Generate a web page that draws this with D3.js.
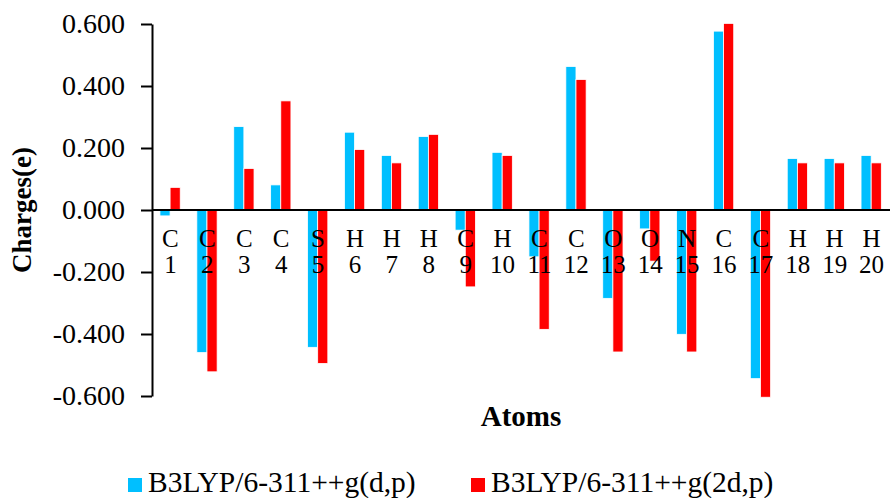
<!DOCTYPE html>
<html><head><meta charset="utf-8">
<script src="https://cdn.jsdelivr.net/npm/d3@7"></script>
<style>body{margin:0;background:#fff}svg{display:block}</style>
</head><body><svg id="c" width="891" height="498"></svg>
<script>
const atoms = ["C","C","C","C","S","H","H","H","C","H","C","C","O","O","N","C","C","H","H","H"];
const indices = ["1","2","3","4","5","6","7","8","9","10","11","12","13","14","15","16","17","18","19","20"];
const seriesNames = ["B3LYP/6-311++g(d,p)","B3LYP/6-311++g(2d,p)"];
const dp  = [-0.019,-0.460,0.269,0.081,-0.443,0.251,0.176,0.237,-0.065,0.186,-0.151,0.463,-0.285,-0.061,-0.401,0.577,-0.544,0.166,0.166,0.176];
const d2p = [0.073,-0.522,0.134,0.352,-0.495,0.195,0.152,0.244,-0.248,0.176,-0.385,0.421,-0.458,-0.165,-0.458,0.602,-0.604,0.152,0.152,0.152];
const yTicks = [-0.6,-0.4,-0.2,0,0.2,0.4,0.6];
const colors = ["#00BFFF","#FF0000"];
const FONT = "Liberation Serif";

const svg = d3.select("#c");
const mLeft = 152, mRight = 890, mTop = 24, mBottom = 396;
const y = d3.scaleLinear().domain([-0.6,0.6]).range([mBottom, mTop]);
const x = d3.scaleBand().domain(indices).range([mLeft, mRight]).padding(0);
const bw = x.bandwidth();
const x1 = d3.scaleBand().domain([0,1]).range([bw*0.215, bw*0.765]).padding(0);
const vals = [dp, d2p];

// bars
const g = svg.append("g");
vals.forEach((arr, s) => {
  g.selectAll(".b"+s).data(arr).enter().append("rect")
    .attr("x", (d,i) => x(indices[i]) + x1(s))
    .attr("width", x1.bandwidth())
    .attr("y", d => y(Math.max(0,d)))
    .attr("height", d => Math.abs(y(d) - y(0)))
    .attr("fill", colors[s])
    .attr("stroke", "#fff").attr("stroke-width", 0.8);
});

// y axis
const ya = svg.append("g").attr("transform", `translate(${mLeft},0)`)
  .call(d3.axisLeft(y).tickValues(yTicks).tickFormat(d => d3.format(".3f")(d).replace("\u2212","-")).tickSize(11).tickPadding(16).tickSizeOuter(0));
ya.select(".domain").attr("stroke","#000").attr("stroke-width",2);
ya.selectAll(".tick line").attr("stroke","#000").attr("stroke-width",2);
ya.selectAll(".tick text").style("font-size","28px").style("font-family",FONT).attr("fill","#000");

// x axis at zero
svg.append("line").attr("x1", mLeft).attr("x2", mRight).attr("y1", y(0)).attr("y2", y(0))
  .attr("stroke","#000").attr("stroke-width",2);

// category labels (two lines)
const cl = svg.append("g");
cl.selectAll(".a").data(atoms).enter().append("text")
  .attr("x",(d,i)=>x(indices[i])+bw/2).attr("y", 247).attr("text-anchor","middle")
  .style("font-size","25px").style("font-family",FONT).attr("fill","#000").text(d=>d);
cl.selectAll(".n").data(indices).enter().append("text")
  .attr("x",d=>x(d)+bw/2).attr("y", 273).attr("text-anchor","middle")
  .style("font-size","25px").style("font-family",FONT).attr("fill","#000").text(d=>d);

// axis titles
svg.append("text").attr("transform",`translate(31,${y(0)}) rotate(-90)`).attr("text-anchor","middle")
  .style("font-size","27px").style("font-family",FONT).style("font-weight","bold").text("Charges(e)");
svg.append("text").attr("x",(mLeft+mRight)/2).attr("y",426).attr("text-anchor","middle")
  .style("font-size","29px").style("font-family",FONT).style("font-weight","bold").text("Atoms");

// legend
const legX = [128, 471];
seriesNames.forEach((n,s)=>{
  svg.append("rect").attr("x",legX[s]).attr("y",478).attr("width",14).attr("height",14).attr("fill",colors[s]);
  svg.append("text").attr("x",legX[s]+20).attr("y",492)
    .style("font-size","29.5px").style("font-family",FONT).attr("fill","#000").text(n);
});
</script></body></html>
